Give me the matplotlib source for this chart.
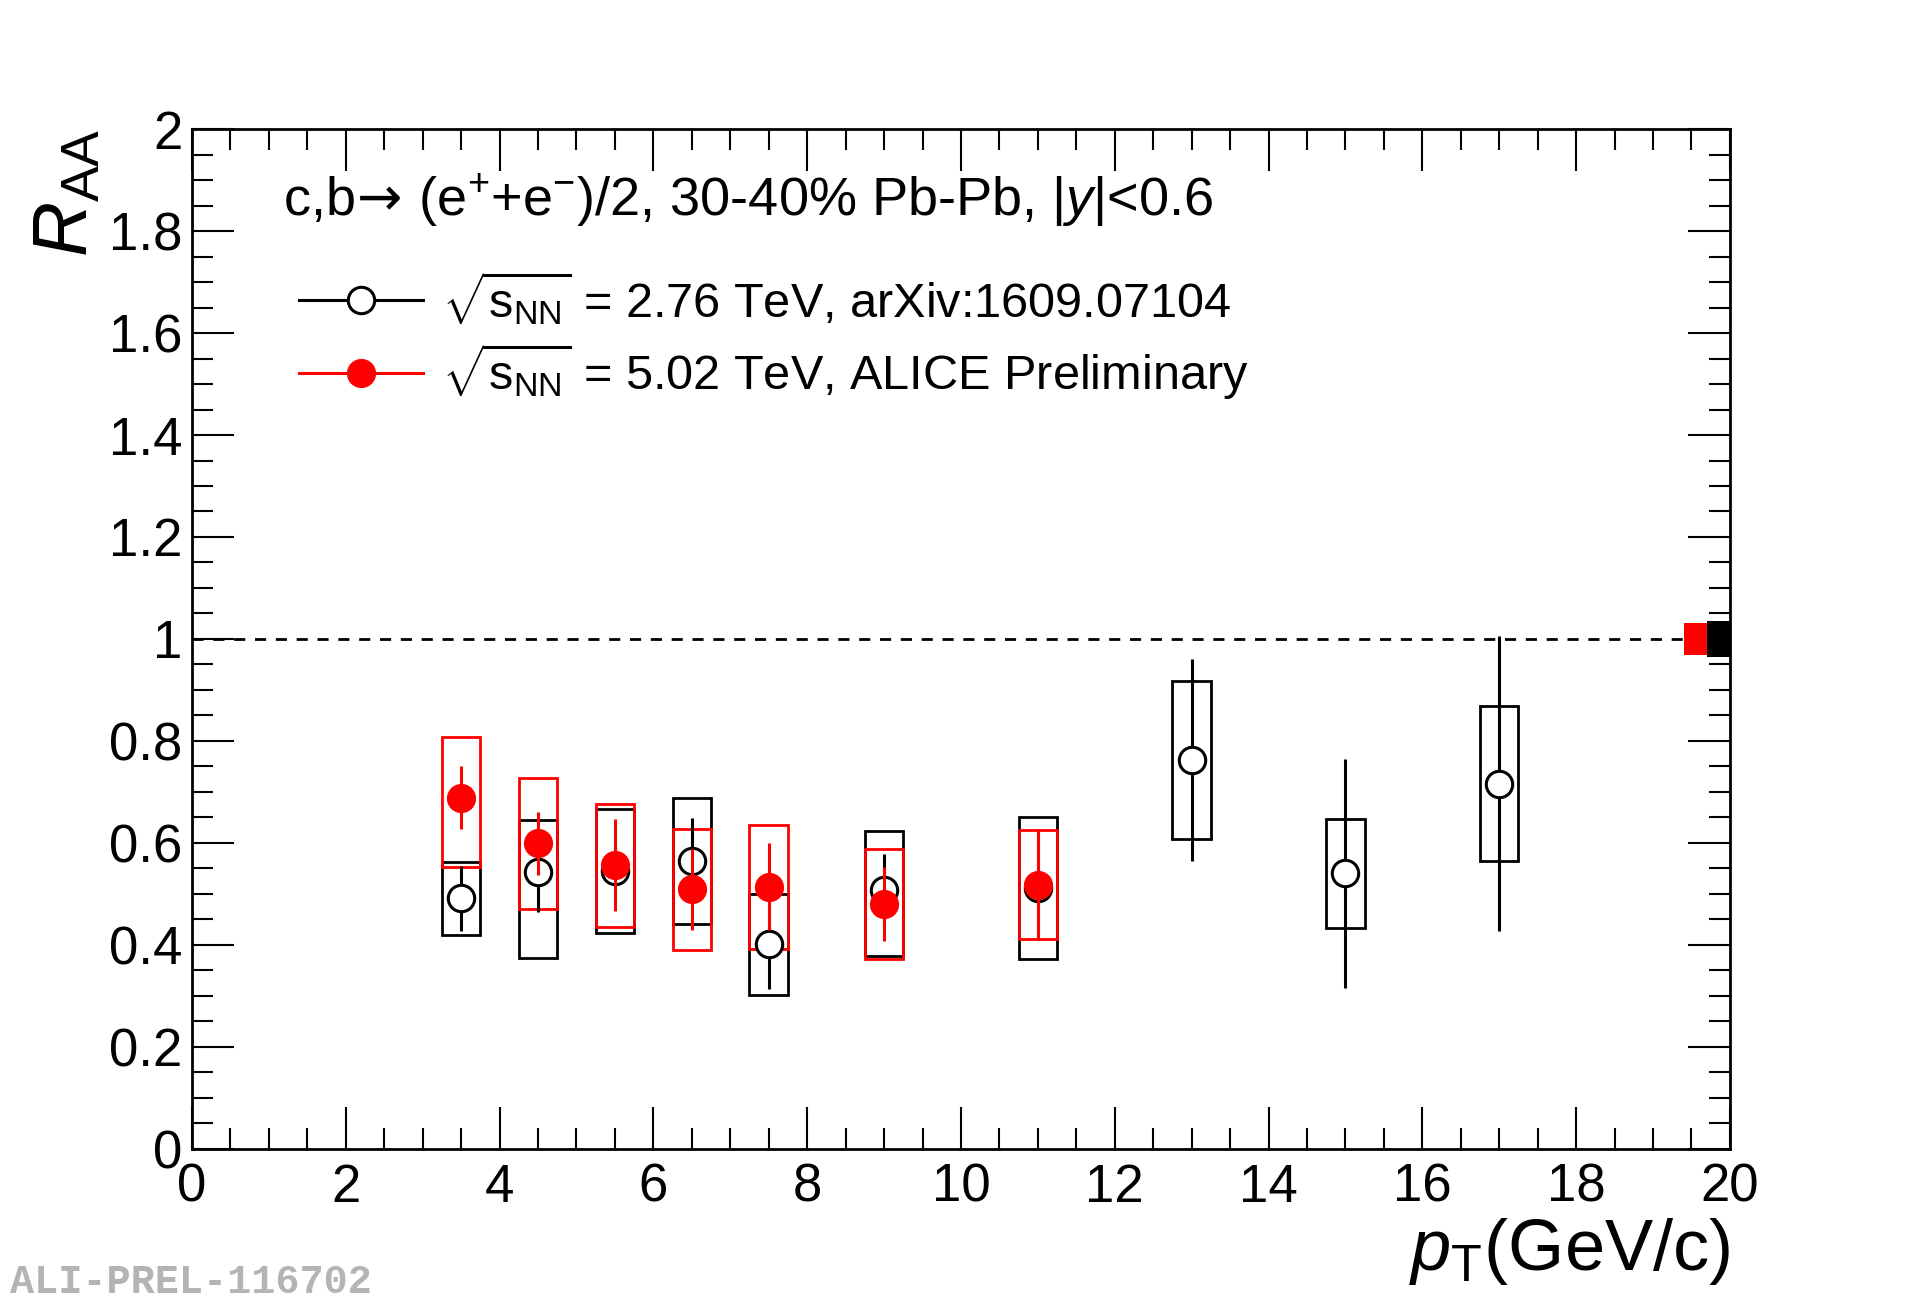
import numpy as np
import matplotlib
matplotlib.use('Agg')
import matplotlib.pyplot as plt
from matplotlib.lines import Line2D
from matplotlib.ticker import MultipleLocator

plt.rcParams['font.family'] = ['Liberation Sans', 'DejaVu Sans']
plt.rcParams['mathtext.fontset'] = 'custom'
plt.rcParams['mathtext.rm'] = 'Liberation Sans'
plt.rcParams['mathtext.it'] = 'Liberation Sans:italic'
plt.rcParams['mathtext.bf'] = 'Liberation Sans:bold'
plt.rcParams['mathtext.sf'] = 'DejaVu Sans'  # only used for the arrow

# sqrt(sNN) = 2.76 TeV, arXiv:1609.07104
pt_276 = np.array([3.5, 4.5, 5.5, 6.5, 7.5, 9.0, 11.0, 13.0, 15.0, 17.0])
raa_276 = np.array([0.491, 0.543, 0.544, 0.565, 0.401, 0.508, 0.511, 0.763, 0.540, 0.716])
stat_276 = np.array([0.064, 0.079, 0.060, 0.084, 0.088, 0.071, 0.100, 0.198, 0.224, 0.289])
sys_up_276 = np.array([0.072, 0.102, 0.123, 0.124, 0.099, 0.116, 0.140, 0.155, 0.106, 0.153])
sys_dn_276 = np.array([0.072, 0.168, 0.121, 0.124, 0.100, 0.130, 0.139, 0.155, 0.107, 0.152])
norm_276 = 0.036

# sqrt(sNN) = 5.02 TeV, ALICE Preliminary
pt_502 = np.array([3.5, 4.5, 5.5, 6.5, 7.5, 9.0, 11.0])
raa_502 = np.array([0.689, 0.599, 0.557, 0.509, 0.514, 0.480, 0.518])
stat_502 = np.array([0.061, 0.061, 0.090, 0.079, 0.085, 0.073, 0.109])
sys_up_502 = np.array([0.119, 0.128, 0.120, 0.119, 0.122, 0.109, 0.107])
sys_dn_502 = np.array([0.137, 0.129, 0.121, 0.119, 0.122, 0.108, 0.107])
norm_502 = 0.032

labels = [r'$\sqrt{\mathrm{s}_{\rm NN}}$ = 2.76 TeV, arXiv:1609.07104',
          r'$\sqrt{\mathrm{s}_{\rm NN}}$ = 5.02 TeV, ALICE Preliminary']

fig = plt.figure(figsize=(19.2, 13.04), dpi=100)
ax = fig.add_axes([0.100, 0.119, 0.801, 0.782])

# reference line at 1
ax.axhline(1.0, color='black', lw=2, dashes=(4, 3.5), zorder=1)

# systematic boxes
ax.bar(pt_276, sys_up_276 + sys_dn_276, bottom=raa_276 - sys_dn_276, width=0.5,
       fill=False, edgecolor='black', linewidth=2, zorder=2)
ax.bar(pt_502, sys_up_502 + sys_dn_502, bottom=raa_502 - sys_dn_502, width=0.5,
       fill=False, edgecolor='red', linewidth=2, zorder=3)

# normalisation boxes
ax.bar(19.55, 2 * norm_502, bottom=1 - norm_502, width=0.3, color='red', linewidth=0, zorder=4)
ax.bar(19.85, 2 * norm_276, bottom=1 - norm_276, width=0.3, color='black', linewidth=0, zorder=4)

# points with stat errors
ax.errorbar(pt_276, raa_276, yerr=stat_276, fmt='o', ms=19, mfc='white', mec='black',
            mew=2.2, ecolor='black', elinewidth=2.2, capsize=0, zorder=5)
ax.errorbar(pt_502, raa_502, yerr=stat_502, fmt='o', ms=20, color='red',
            ecolor='red', elinewidth=2.2, capsize=0, zorder=6)

ax.set_xlim(0, 20)
ax.set_ylim(0, 2)
ax.xaxis.set_major_locator(MultipleLocator(2))
ax.xaxis.set_minor_locator(MultipleLocator(0.5))
ax.yaxis.set_major_locator(MultipleLocator(0.2))
ax.yaxis.set_minor_locator(MultipleLocator(0.05))
ax.yaxis.set_major_formatter(matplotlib.ticker.FuncFormatter(lambda v, p: '%g' % round(v, 2)))
ax.tick_params(which='both', direction='in', top=True, right=True, width=1.5, labelsize=38)
ax.tick_params(which='major', length=30)
ax.tick_params(which='minor', length=15)
ax.tick_params(axis='y', pad=7)
ax.tick_params(axis='x', pad=10)
for s in ax.spines.values():
    s.set_linewidth(2)

ax.set_xlabel(r'$p_{\rm T}$(GeV/c)', fontsize=52, loc='right')
ax.xaxis.set_label_coords(1.0, -0.066)
ax.set_ylabel(r'$R_{\rm AA}$', fontsize=55, loc='top')
ax.yaxis.set_label_coords(-0.058, 1.0)

ax.text(0.059, 0.915, r'c,b$\!\mathsf{\rightarrow}\!$ (e$^{+}$+e$^{-}$)/2, 30-40% Pb-Pb, |$y$|<0.6',
        transform=ax.transAxes, fontsize=39, va='baseline')

handles = [Line2D([], [], color='black', lw=2.2, marker='o', ms=19, mfc='white', mec='black', mew=2.2),
           Line2D([], [], color='red', lw=2.2, marker='o', ms=20)]
ax.legend(handles, labels, loc='upper left', bbox_to_anchor=(0.0696, 0.863), frameon=False,
          fontsize=35, handlelength=2.55, handletextpad=0.4, labelspacing=0.32,
          borderpad=0, borderaxespad=0)

fig.text(0.005, 0.002, 'ALI-PREL-116702', family='Liberation Mono', weight='bold',
         color='#b4b4b4', fontsize=29, va='bottom')

fig.savefig('out.png', dpi=100)
